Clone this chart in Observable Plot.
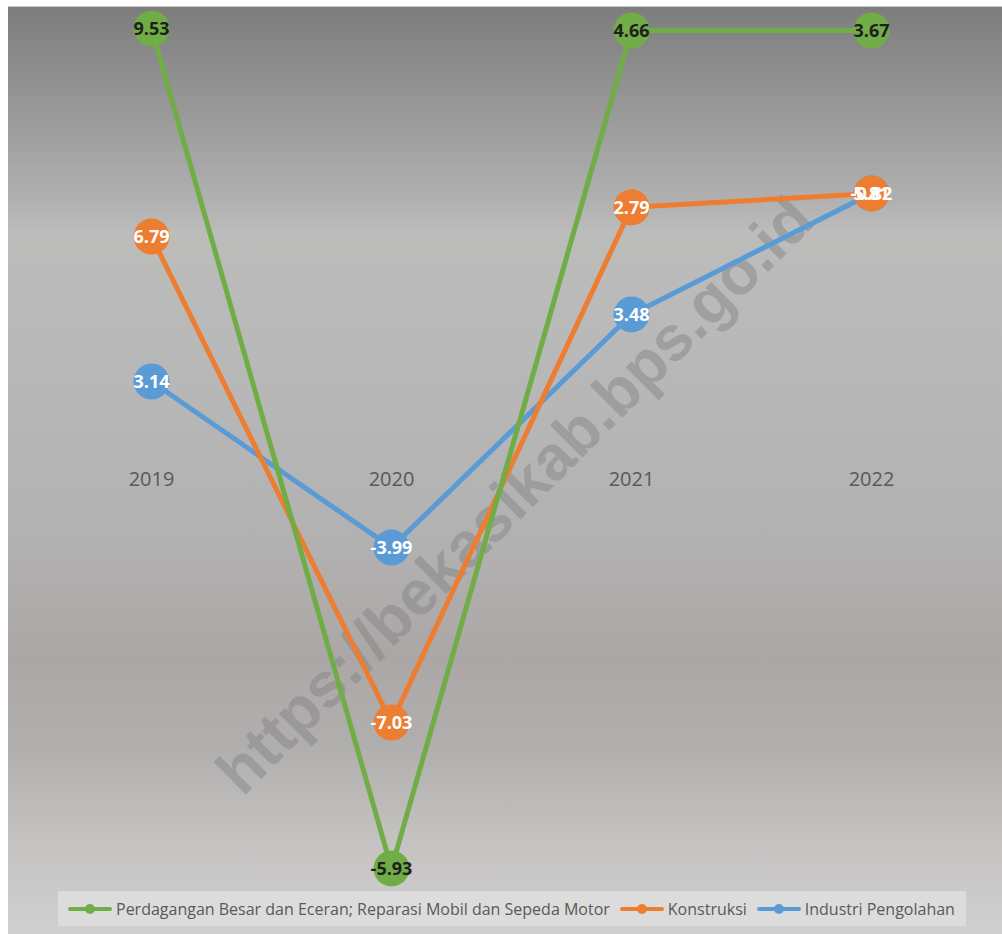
<!DOCTYPE html>
<html>
<head>
<meta charset="utf-8">
<script src="https://cdn.jsdelivr.net/npm/d3@7"></script>
<script src="https://cdn.jsdelivr.net/npm/@observablehq/plot@0.6"></script>
<style>
  html, body { margin: 0; padding: 0; background: #ffffff; }
  #wrap { position: relative; width: 1002px; height: 934px; overflow: hidden; font-family: "Open Sans", sans-serif; }
  #bg { position: absolute; left: 8px; top: 6px; width: 994px; height: 928px;
        border-top: 1px solid #c9c9c9;
        background: linear-gradient(to bottom, #7d7d7d 0px, #9a9a9a 110px, #b0b1b0 195px, #bcbcbb 225px, #b9b9b9 330px, #b3b2b2 520px, #aba7a6 650px, #b1afae 740px, #c4c2c1 830px, #d0d0d0 928px); }
  #chart { position: absolute; left: 0; top: 0; }
  #chart svg { background: transparent !important; }
  #legend { position: absolute; left: 58px; top: 891px; width: 908px; height: 35px; background: #dcdcdc;
            display: flex; align-items: center; font-size: 16px; color: #595959; box-sizing: border-box; padding-left: 10px; white-space: nowrap; }
  .item { display: flex; align-items: center; margin-right: 10px; }
  .sym { position: relative; width: 44px; height: 10px; margin-right: 4px; }
  .sym .ln { position: absolute; left: 0; right: 0; top: 3px; height: 4px; border-radius: 2px; }
  .sym .mk { position: absolute; left: 17px; top: 0; width: 10px; height: 10px; border-radius: 50%; }
</style>
</head>
<body>
<div id="wrap">
  <div id="bg"></div>
  <div id="chart"></div>
  <div id="legend"></div>
</div>
<script>
// Categories
const years = ["2019", "2020", "2021", "2022"];
// Series names (legend order)
const seriesNames = [
  "Perdagangan Besar dan Eceran; Reparasi Mobil dan Sepeda Motor",
  "Konstruksi",
  "Industri Pengolahan"
];
const seriesColors = ["#70AD47", "#ED7D31", "#5B9BD5"];
const labelColors = ["#1f1f1f", "#ffffff", "#ffffff"];

// Plotted positions and their data labels
const perdaganganPos = [9.64, -9.02, 9.6, 9.6];
const perdaganganLabels = ["9.53", "-5.93", "4.66", "3.67"];
const konstruksiPos = [5.02, -5.78, 5.67, 5.98];
const konstruksiLabels = ["6.79", "-7.03", "2.79", "-0.82"];
const industriPos = [1.8, -1.89, 3.29, 5.98];
const industriLabels = ["3.14", "-3.99", "3.48", "5.81"];

const watermark = "https://bekasikab.bps.go.id";

const positions = [perdaganganPos, konstruksiPos, industriPos];
const labels = [perdaganganLabels, konstruksiLabels, industriLabels];

const rows = [];
seriesNames.forEach((s, i) => {
  years.forEach((yr, j) => {
    rows.push({series: s, idx: i, year: yr, value: positions[i][j], label: labels[i][j]});
  });
});

// draw order: blue at bottom, then orange, then green on top
const drawOrder = [2, 1, 0];
const seriesMarks = [];
drawOrder.forEach(i => {
  const d = rows.filter(r => r.idx === i);
  seriesMarks.push(Plot.line(d, {x: "year", y: "value", stroke: seriesColors[i], strokeWidth: 5, strokeLinejoin: "round", strokeLinecap: "round"}));
  seriesMarks.push(Plot.dot(d, {x: "year", y: "value", r: 18, fill: seriesColors[i], stroke: "none"}));
});
const labelMarks = drawOrder.map(i => Plot.text(rows.filter(r => r.idx === i), {
  x: "year", y: "value", text: "label", fill: labelColors[i], fontSize: 18, fontWeight: "bold",
  fontFamily: "Open Sans", textAnchor: "middle", dy: 1
}));

const chart = Plot.plot({
  width: 1002,
  height: 934,
  marginLeft: 8, marginRight: 0, marginTop: 7, marginBottom: 0,
  style: {background: "transparent", overflow: "visible"},
  x: {type: "point", domain: years, range: [150, 871], padding: 0, axis: null},
  y: {domain: [-10, 10], range: [912, 12], axis: null},
  marks: [
    Plot.text([watermark], {frameAnchor: "middle", text: d => d, rotate: -45, dx: 10, dy: 25,
      fontSize: 63, fontWeight: "bold", fontFamily: "Liberation Sans", fill: "#808080", fillOpacity: 0.45}),
    Plot.text(years, {x: d => d, y: () => 0, text: d => d, dy: 17, fontSize: 20, fill: "#595959", fontFamily: "Open Sans"}),
    ...seriesMarks,
    ...labelMarks
  ]
});
document.getElementById("chart").appendChild(chart);

// Legend
const legend = document.getElementById("legend");
seriesNames.forEach((s, i) => {
  const it = document.createElement("div");
  it.className = "item";
  it.innerHTML = `<span class="sym"><span class="ln" style="background:${seriesColors[i]}"></span><span class="mk" style="background:${seriesColors[i]}"></span></span><span>${s}</span>`;
  legend.appendChild(it);
});
</script>
</body>
</html>
